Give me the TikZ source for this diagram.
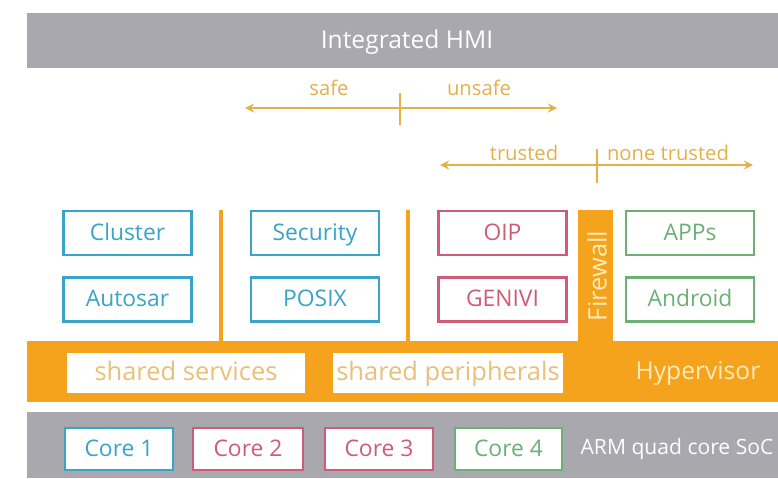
\documentclass[tikz,border=0pt]{standalone}
\usepackage{fontspec}
\setmainfont{Open Sans}
\usetikzlibrary{arrows}

\definecolor{hmigray}{RGB}{168,168,174}
\definecolor{hvorange}{RGB}{245,162,28}
\definecolor{arrowgold}{RGB}{228,176,72}
\definecolor{boxblue}{RGB}{58,163,200}
\definecolor{boxred}{RGB}{206,92,118}
\definecolor{boxgreen}{RGB}{108,176,116}
\definecolor{sharedtext}{RGB}{232,192,122}
\definecolor{hvtext}{RGB}{255,236,184}

\begin{document}
\begin{tikzpicture}[x=0.02cm, y=-0.02cm]
\tikzstyle{layer}=[inner sep=0pt, minimum width=15.02cm];
\tikzstyle{osbox}=[draw, line width=1.4pt, fill=white, minimum width=2.56cm, minimum height=0.88cm, inner sep=0pt, text height=0.9em, text depth=0.06em, font=\fontsize{13}{15}\selectfont];
\tikzstyle{blue}=[osbox, draw=boxblue, text=boxblue];
\tikzstyle{red}=[osbox, draw=boxred, text=boxred];
\tikzstyle{green}=[osbox, draw=boxgreen, text=boxgreen];
\tikzstyle{sharedbox}=[fill=white, minimum height=0.8cm, inner sep=0pt, text=sharedtext, text height=0.95em, text depth=0em, font=\fontsize{14.5}{16}\selectfont];
\tikzstyle{scope}=[arrowgold, line width=1.3pt];
\tikzstyle{scopelabel}=[arrowgold, font=\fontsize{11.5}{13}\selectfont];
\tikzstyle{divider}=[hvorange, line width=1.8pt];
\useasboundingbox (0,0) rectangle (778,478);

% layers
\node[layer, fill=hmigray, minimum height=1.1cm] (hmi) at (402.5,40.5) {};
\node[text=white, font=\fontsize{14}{16}\selectfont] (hmilabel) at (407,42) {Integrated HMI};
\node[layer, fill=hvorange, minimum height=1.22cm] (hv) at (402.5,371.5) {};
\node[layer, fill=hmigray, minimum height=1.32cm] (soc) at (402.5,445) {};

% safe / unsafe
\coordinate (safeL) at (245,108);
\coordinate (safeR) at (557,108);
\coordinate (safeT) at (400,93);
\coordinate (safeB) at (400,125);
\draw[<->, >=stealth, scope] (safeL) -- (safeR);
\draw[scope] (safeT) -- (safeB);
\node[scopelabel] (safe) at (329,88) {safe};
\node[scopelabel] (unsafe) at (479,88) {unsafe};

% trusted / none trusted
\coordinate (trustL) at (440,165);
\coordinate (trustR) at (753,165);
\coordinate (trustT) at (597,149);
\coordinate (trustB) at (597,183);
\draw[<->, >=stealth, scope] (trustL) -- (trustR);
\draw[scope] (trustT) -- (trustB);
\node[scopelabel] (trusted) at (524,153) {trusted};
\node[scopelabel] (nonetrusted) at (668,153) {none trusted};

% partitions
\draw[divider] (221,210) -- (221,341);
\draw[divider] (408,210) -- (408,341);
\fill[hvorange] (578,210) rectangle (613,342);
\node[rotate=90, text=hvtext, font=\fontsize{14.5}{16}\selectfont] (firewall) at (597,276) {Firewall};

\node[blue] (cluster) at (127.5,233) {Cluster};
\node[blue] (autosar) at (127.5,299.5) {Autosar};
\node[blue] (security) at (315,233) {Security};
\node[blue] (posix) at (315,299.5) {POSIX};
\node[red] (oip) at (502.5,233) {OIP};
\node[red] (genivi) at (502.5,299.5) {GENIVI};
\node[green] (apps) at (690,233) {APPs};
\node[green] (android) at (690,299.5) {Android};

% hypervisor
\node[sharedbox, minimum width=4.76cm] (services) at (186,372.5) {shared services};
\node[sharedbox, minimum width=4.6cm] (peripherals) at (448,372.5) {shared peripherals};
\node[text=hvtext, font=\fontsize{14}{16}\selectfont] (hvlabel) at (698,373) {Hypervisor};

% SoC
\node[blue, minimum width=2.16cm, minimum height=0.84cm] (core1) at (119,449) {Core 1};
\node[red, minimum width=2.2cm, minimum height=0.84cm] (core2) at (248,449) {Core 2};
\node[red, minimum width=2.16cm, minimum height=0.84cm] (core3) at (379,449) {Core 3};
\node[green, minimum width=2.14cm, minimum height=0.84cm] (core4) at (508.5,449) {Core 4};
\node[text=white, font=\fontsize{12}{14}\selectfont] (soclabel) at (677,449) {ARM quad core SoC};
\end{tikzpicture}
\end{document}
